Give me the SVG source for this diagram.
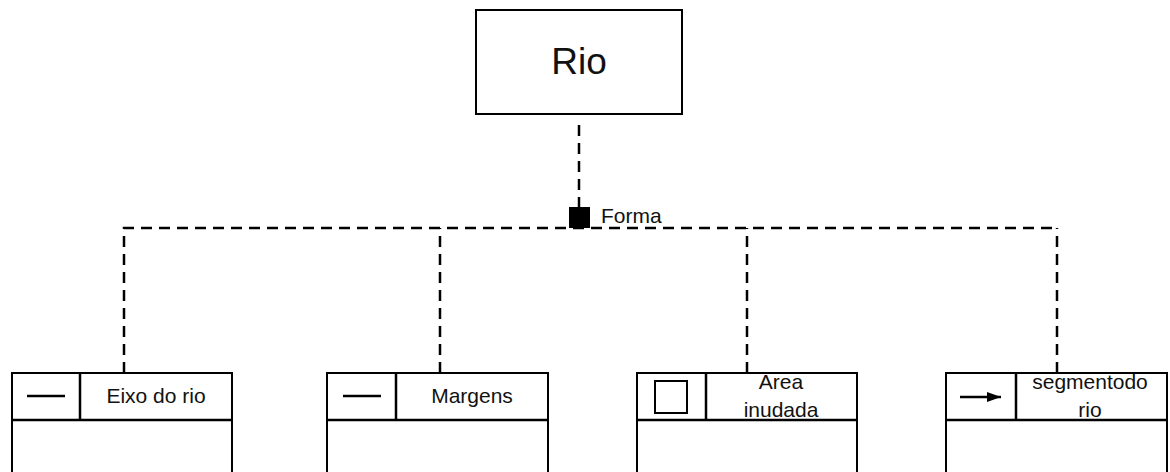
<svg xmlns="http://www.w3.org/2000/svg" width="1170" height="472" viewBox="0 0 1170 472">
<style>
.box{fill:#fff;stroke:#000;stroke-width:2}
.ln{stroke:#000;stroke-width:2.5;fill:none}
.dash{stroke:#000;stroke-width:2.5;fill:none;stroke-dasharray:11 7}
.t{font-family:"Liberation Sans",Arial,sans-serif;font-size:21px;fill:#111;text-anchor:middle}
</style>
<defs>
<marker id="ah" markerWidth="14" markerHeight="10" refX="14" refY="5" orient="auto" markerUnits="userSpaceOnUse">
<path d="M0,0 L14,5 L0,10 Z" fill="#000"/>
</marker>
</defs>
<g id="connectors">
<path class="dash" d="M579,125 V228"/>
<path class="dash" d="M124,373 V228 H1057"/>
<path class="dash" d="M1057,373 V228"/>
<path class="dash" d="M440,373 V228"/>
<path class="dash" d="M747,373 V228"/>
<rect x="569" y="207" width="21" height="21" fill="#000"/>
<text x="601" y="223" class="t" style="text-anchor:start">Forma</text>
</g>
<g id="rio">
<rect class="box" x="476" y="10" width="206" height="104"/>
<text x="579" y="74" class="t" style="font-size:37px">Rio</text>
</g>
<g id="eixo">
<rect class="box" x="12" y="373" width="220" height="110"/>
<path class="ln" d="M12,420 H232 M80,373 V420"/>
<path class="ln" d="M27,396 H65"/>
<text x="156" y="403" class="t">Eixo do rio</text>
</g>
<g id="margens">
<rect class="box" x="327" y="373" width="221" height="110"/>
<path class="ln" d="M327,420 H548 M396,373 V420"/>
<path class="ln" d="M343,396 H381"/>
<text x="472" y="403" class="t">Margens</text>
</g>
<g id="area">
<rect class="box" x="637" y="373" width="220" height="110"/>
<path class="ln" d="M637,420 H857 M706,373 V420"/>
<rect x="655" y="381" width="32" height="32" fill="none" stroke="#000" stroke-width="2"/>
<text x="781" y="389" class="t">Area</text>
<text x="781" y="417" class="t">inudada</text>
</g>
<g id="segmento">
<rect class="box" x="946" y="373" width="221" height="110"/>
<path class="ln" d="M946,420 H1167 M1016,373 V420"/>
<path class="ln" d="M960,397 H1001" marker-end="url(#ah)"/>
<text x="1090" y="389" class="t">segmentodo</text>
<text x="1090" y="417" class="t">rio</text>
</g>
</svg>
